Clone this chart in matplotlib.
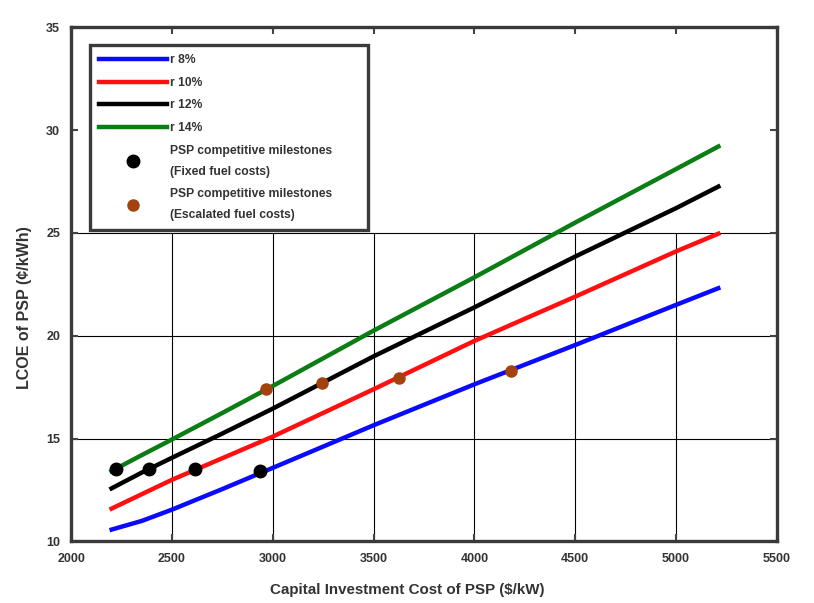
import numpy as np
import matplotlib
matplotlib.use("Agg")
import matplotlib.pyplot as plt
from matplotlib.lines import Line2D

plt.rcParams.update({
    "font.family": ["Liberation Sans Narrow", "Liberation Sans", "DejaVu Sans"],
    "font.weight": "bold",
    "font.size": 9,
})

# LCOE curves, cents/kWh vs capital cost $/kW
cap = [2190, 2350, 2500, 2750, 3000, 3500, 4000, 4500, 5000, 5220]
lcoe_8 = [10.55, 11.0, 11.55, 12.55, 13.58, 15.65, 17.64, 19.55, 21.5, 22.35]
lcoe_10 = [11.55, 12.3, 13.0, 14.05, 15.1, 17.4, 19.75, 21.9, 24.1, 25.0]
lcoe_12 = [12.53, 13.35, 14.07, 15.25, 16.46, 19.0, 21.38, 23.85, 26.2, 27.3]
lcoe_14 = [13.37, 14.2, 14.96, 16.25, 17.56, 20.25, 22.84, 25.5, 28.1, 29.25]

# competitive milestones
fixed_x = [2222, 2387, 2616, 2937]
fixed_y = [13.5, 13.5, 13.5, 13.42]
esc_x = [2965, 3242, 3626, 4180]
esc_y = [17.43, 17.69, 17.93, 18.28]

series = [
    (lcoe_8, "#0a0aff", "r 8%"),
    (lcoe_10, "#ff1010", "r 10%"),
    (lcoe_12, "#000000", "r 12%"),
    (lcoe_14, "#0a7d14", "r 14%"),
]
BROWN = "#a3420e"
TXT = "#333333"
ARIAL = ["Liberation Sans", "DejaVu Sans"]

fig = plt.figure(figsize=(8.14, 6.03), dpi=100)
ax = fig.add_axes([0.0875, 0.102, 0.8668, 0.853])

# grid only covers the lower part of the plot
for gx in [2500, 3000, 3500, 4000, 4500, 5000]:
    ax.vlines(gx, 10, 25, color="black", linewidth=0.8, zorder=1)
for gy in [15, 20, 25]:
    ax.hlines(gy, 2000, 5500, color="black", linewidth=0.8, zorder=1)

for ys, c, lab in series:
    ax.plot(cap, ys, color=c, linewidth=3.2, solid_capstyle="butt", zorder=3)

ax.plot(fixed_x, fixed_y, "o", color="black", markersize=9, zorder=4)
ax.plot(esc_x, esc_y, "o", color=BROWN, markersize=8, zorder=4)

ax.set_xlim(2000, 5500)
ax.set_ylim(10, 35)
ax.set_xticks(np.arange(2000, 5501, 500))
ax.set_yticks(np.arange(10, 36, 5))
ax.tick_params(direction="in", top=True, right=True, length=5, width=1.5,
               colors="#444444", labelcolor=TXT, labelsize=9, pad=8)
for s in ax.spines.values():
    s.set_linewidth(2.4)
    s.set_color("#3a3a3a")

ax.set_xlabel("Capital Investment Cost of PSP ($/kW)", fontsize=10.9,
              fontweight="bold", color=TXT)
ax.set_ylabel("LCOE of PSP (¢/kWh)", fontsize=11.5, fontweight="bold",
              color=TXT, family=ARIAL)
ax.xaxis.set_label_coords(0.4766, -0.081)
ax.yaxis.set_label_coords(-0.0556, 0.454)

handles = [Line2D([], [], color=c, linewidth=3.2) for _, c, _ in series]
handles += [
    Line2D([], [], linestyle="none", marker="o", color="black", markersize=9),
    Line2D([], [], linestyle="none", marker="o", color=BROWN, markersize=8),
]
labels = [lab for _, _, lab in series]
labels += ["PSP competitive milestones\n(Fixed fuel costs)",
           "PSP competitive milestones\n(Escalated fuel costs)"]
leg = ax.legend(handles, labels, loc="upper left", mode="expand",
                bbox_to_anchor=(0.0266, 0.0, 0.394, 0.965), fancybox=False,
                framealpha=1, edgecolor="#3a3a3a", handlelength=5.6,
                handletextpad=0.25, labelspacing=0.87, borderpad=0.75,
                borderaxespad=0,
                prop={"size": 8.75, "weight": "bold", "family": ARIAL})
leg.get_frame().set_linewidth(2.4)
for t in leg.get_texts():
    t.set_color(TXT)
    t.set_linespacing(2.0)
leg.set_zorder(5)

fig.savefig("out.png", dpi=100, facecolor="white")
